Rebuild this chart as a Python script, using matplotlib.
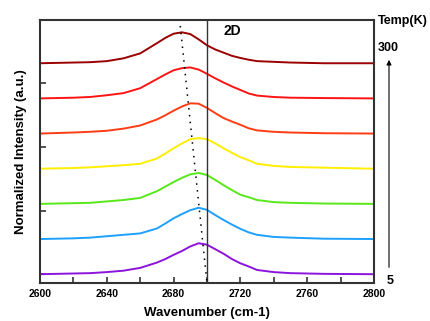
import numpy as np
import matplotlib
matplotlib.use("Agg")
import matplotlib.pyplot as plt

plt.rcParams['font.family'] = ['Liberation Sans', 'DejaVu Sans']
plt.rcParams['font.weight'] = 'bold'

# shared wavenumber grid (cm-1)
wavenumber = [2600, 2620, 2630, 2640, 2650, 2660, 2670, 2675, 2680, 2685, 2690, 2695,
              2700, 2705, 2710, 2715, 2720, 2725, 2730, 2740, 2750, 2770, 2800]

# normalized 2D-band spectra, bottom (5 K) to top (300 K)
purple = [0, .02, .03, .06, .10, .18, .33, .43, .55, .66, .79, .88, .84, .71, .58, .43, .31, .22, .12, .06, .03, .01, 0]
blue = [0, .02, .04, .08, .12, .16, .30, .44, .59, .71, .82, .89, .83, .68, .54, .41, .29, .19, .12, .06, .04, .01, 0]
green = [0, .02, .03, .07, .11, .17, .36, .49, .62, .74, .84, .88, .82, .68, .53, .39, .26, .19, .11, .05, .03, .01, 0]
yellow = [0, .02, .04, .07, .10, .14, .29, .43, .58, .72, .84, .87, .84, .72, .58, .45, .33, .24, .14, .08, .05, .03, 0]
orange = [0, .03, .05, .08, .14, .23, .40, .52, .65, .77, .86, .85, .73, .58, .44, .34, .25, .15, .09, .05, .03, .01, 0]
red = [0, .02, .04, .09, .15, .29, .55, .68, .80, .86, .88, .82, .70, .57, .45, .34, .24, .14, .08, .04, .02, .01, 0]
darkred = [0, .02, .03, .06, .14, .28, .57, .72, .84, .88, .83, .68, .51, .39, .30, .21, .15, .10, .06, .04, .02, 0, 0]

spectra = [purple, blue, green, yellow, orange, red, darkred]
colors = ['#8c14dc', '#1ea0ff', '#58e81a', '#ffee00', '#ff3c14', '#ff1414', '#9b0000']

# peak-shift guide line
guide_wn = [2684, 2700]
guide_y = [7.06, -0.25]

fig = plt.figure(figsize=(4.31, 3.21), dpi=100)
ax = fig.add_axes([0.0928, 0.1184, 0.7749, 0.8193])

step = 1.0
for i, (s, c) in enumerate(zip(spectra, colors)):
    ax.plot(wavenumber, np.array(s) + i * step, color=c, lw=1.4)

ax.axvline(2700, color='#333333', lw=1.0)
ax.plot(guide_wn, guide_y, color='black', lw=1.1, linestyle=(0, (1, 3.5)))

ax.set_xlim(2600, 2800)
ax.set_ylim(-0.25, 7.23)
ax.set_xticks(np.arange(2600, 2801, 40))
ax.set_xticks(np.arange(2620, 2800, 40), minor=True)
ax.set_yticks([0, 1.81, 3.62, 5.43])
ax.set_yticklabels([])
ax.tick_params(axis='x', which='both', direction='in', length=4, width=1.2,
               labelsize=7.5, pad=4, color='#333333')
ax.tick_params(axis='y', direction='in', length=4, width=1.2, color='#333333')
for lbl in ax.get_xticklabels():
    lbl.set_fontweight('bold')
for sp in ax.spines.values():
    sp.set_linewidth(1.5)
    sp.set_color('#333333')

ax.set_xlabel('Wavenumber (cm-1)', fontsize=9.5, fontweight='bold', labelpad=6)
ax.set_ylabel('Normalized Intensity (a.u.)', fontsize=9.5, fontweight='bold', labelpad=6)

ax.text(2715.4, 6.92, '2D', fontsize=10, fontweight='bold', ha='center', va='center')

ax.text(1.012, 0.997, 'Temp(K)', transform=ax.transAxes, fontsize=9, fontweight='bold',
        ha='left', va='center')
ax.text(1.012, 0.894, '300', transform=ax.transAxes, fontsize=9, fontweight='bold',
        ha='left', va='center')
ax.text(1.038, 0.008, '5', transform=ax.transAxes, fontsize=9, fontweight='bold',
        ha='left', va='center')
ax.annotate('', xy=(1.045, 0.859), xytext=(1.045, 0.049), xycoords='axes fraction',
            arrowprops=dict(arrowstyle='-|>', color='black', lw=0.8, mutation_scale=7))

fig.savefig('out.png', dpi=100)
